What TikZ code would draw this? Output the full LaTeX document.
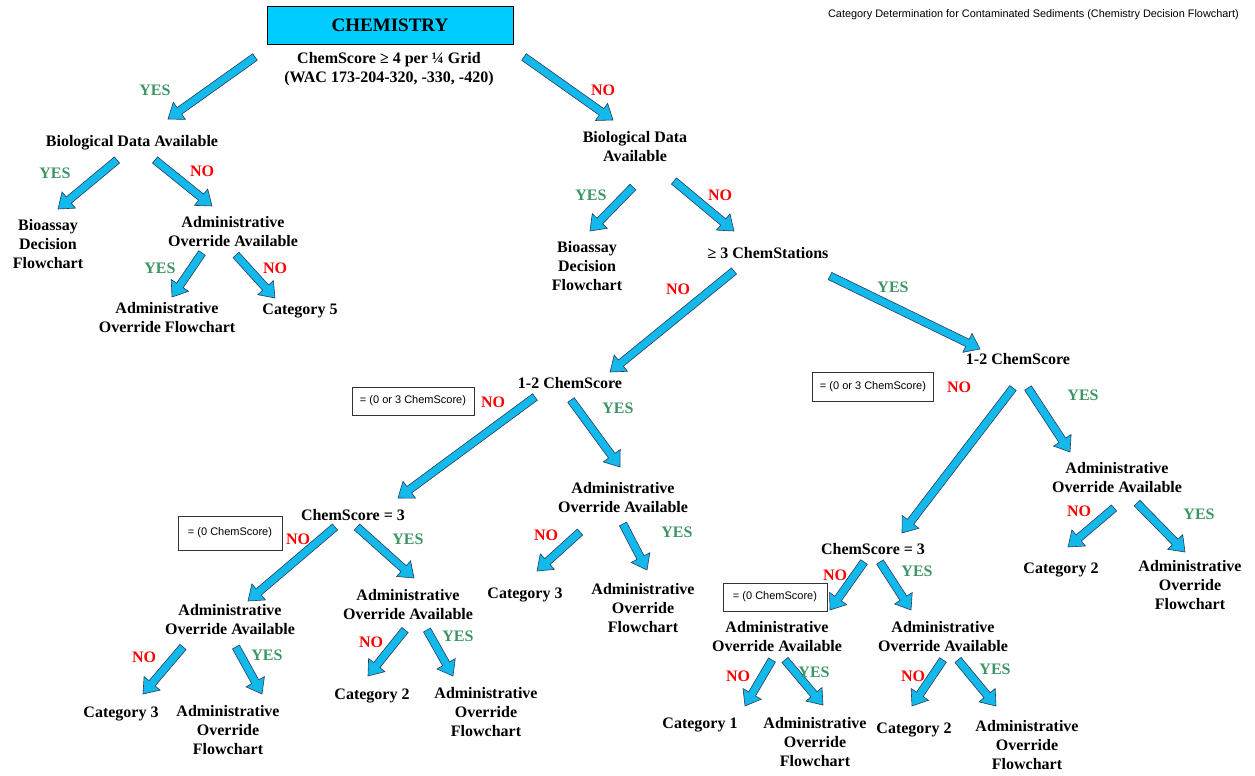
\documentclass[tikz,border=0pt]{standalone}
\usepackage{fontspec}
\setmainfont{Liberation Serif}
\newfontfamily\arialfont{Liberation Sans}
\usetikzlibrary{calc}
\definecolor{chemcyan}{RGB}{0,204,255}
\definecolor{arrowcyan}{RGB}{20,185,235}
\definecolor{arrowline}{RGB}{40,60,90}
\definecolor{yesgreen}{RGB}{60,150,100}
\definecolor{nored}{RGB}{255,0,0}
% block arrow from (source + offset) to (target + offset)
\newcommand{\flowarrow}[4]{%
  \coordinate (fa-t) at ([shift={(#2)}]#1.center);
  \coordinate (fa-h) at ([shift={(#4)}]#3.center);
  \coordinate (fa-n) at ($(fa-h)!14pt!(fa-t)$);
  \draw[blockarrow] ($(fa-t)!4pt!90:(fa-h)$) -- ($(fa-n)!4pt!90:(fa-h)$)
    -- ($(fa-n)!10.5pt!90:(fa-h)$) -- (fa-h) -- ($(fa-n)!10.5pt!-90:(fa-h)$)
    -- ($(fa-n)!4pt!-90:(fa-h)$) -- ($(fa-t)!4pt!-90:(fa-h)$) -- cycle;}
\begin{document}
\begin{tikzpicture}[x=1pt, y=-1pt,
            every node/.style = {inner sep=0pt, align=center},
            txt/.style = {font=\fontsize{16}{19}\selectfont\bfseries},
            yes/.style = {txt, text=yesgreen},
            no/.style = {txt, text=nored},
            notebox/.style = {draw=black!80, line width=1pt, minimum height=28pt,
                              font=\arialfont\fontsize{11}{13}\selectfont},
            blockarrow/.style = {fill=arrowcyan, draw=arrowline, line width=0.6pt, line join=miter}]
  \useasboundingbox (0,0) rectangle (1255,776);

  \node[anchor=east, font=\arialfont\fontsize{10.9}{12}\selectfont] (title) at (1239,15)
       {Category Determination for Contaminated Sediments (Chemistry Decision Flowchart)};

  \node[draw=black, fill=chemcyan, line width=0.8pt, minimum width=246pt, minimum height=38pt,
        font=\fontsize{19}{22}\selectfont\bfseries] (chem) at (390,25) {CHEMISTRY};
  \node[txt] (crit) at (389,69) {ChemScore ≥ 4 per ¼ Grid\\(WAC 173-204-320, -330, -420)};

  % left branch
  \node[txt] (bioL) at (132,143) {Biological Data Available};
  \node[txt] (bioassayL) at (48,244) {Bioassay\\Decision\\Flowchart};
  \node[txt] (admL) at (233,232) {Administrative\\Override Available};
  \node[txt] (admfL) at (167,318) {Administrative\\Override Flowchart};
  \node[txt] (cat5) at (300,311) {Category 5};

  % right branch
  \node[txt] (bioR) at (635,147) {Biological Data\\Available};
  \node[txt] (bioassayR) at (587,266) {Bioassay\\Decision\\Flowchart};
  \node[txt] (st3) at (768,253) {≥ 3 ChemStations};
  \node[txt] (cs12a) at (570,383) {1-2 ChemScore};
  \node[txt] (cs12b) at (1018,359) {1-2 ChemScore};

  \node[notebox, minimum width=122pt] (note1) at (413,401) {= (0 or 3 ChemScore)};
  \node[txt] (cs3a) at (353,515) {ChemScore = 3};
  \node[notebox, minimum width=104pt, minimum height=34pt] (note2) at (230,533) {= (0 ChemScore)};
  \node[txt] (admA) at (623,498) {Administrative\\Override Available};
  \node[txt] (catA3) at (525,595) {Category 3};
  \node[txt] (flowA) at (643,608) {Administrative\\Override\\Flowchart};
  \node[txt] (admB) at (230,620) {Administrative\\Override Available};
  \node[txt] (catB3) at (121,714) {Category 3};
  \node[txt] (flowB) at (228,730) {Administrative\\Override\\Flowchart};
  \node[txt] (admC) at (408,605) {Administrative\\Override Available};
  \node[txt] (catC2) at (372,696) {Category 2};
  \node[txt] (flowC) at (486,712) {Administrative\\Override\\Flowchart};

  \node[notebox, minimum width=121pt, minimum height=29pt] (note3) at (873,387) {= (0 or 3 ChemScore)};
  \node[txt] (cs3b) at (873,549) {ChemScore = 3};
  \node[notebox, minimum width=104pt] (note4) at (775,597) {= (0 ChemScore)};
  \node[txt] (admD) at (1117,478) {Administrative\\Override Available};
  \node[txt] (catD2) at (1061,570) {Category 2};
  \node[txt] (flowD) at (1190,585) {Administrative\\Override\\Flowchart};
  \node[txt] (admE) at (777,637) {Administrative\\Override Available};
  \node[txt] (catE1) at (700,725) {Category 1};
  \node[txt] (flowE) at (815,742) {Administrative\\Override\\Flowchart};
  \node[txt] (admF) at (943,637) {Administrative\\Override Available};
  \node[txt] (catF2) at (914,730) {Category 2};
  \node[txt] (flowF) at (1027,745) {Administrative\\Override\\Flowchart};

  % arrows
  \flowarrow{crit}{-134,-12}{bioL}{36,-24}
  \flowarrow{crit}{135,-12}{bioR}{-22,-27}
  \flowarrow{bioL}{-15,17}{bioassayL}{10,-35}
  \flowarrow{bioL}{23,17}{admL}{-21,-26}
  \flowarrow{admL}{-31,21}{admfL}{5,-21}
  \flowarrow{admL}{3,23}{cat5}{-25,-13}
  \flowarrow{bioR}{-2,40}{bioassayR}{3,-35}
  \flowarrow{bioR}{39,34}{st3}{-34,-22}
  \flowarrow{st3}{-34,18}{cs12a}{40,-11}
  \flowarrow{st3}{62,23}{cs12b}{-38,-10}
  \flowarrow{cs12a}{-35,14}{cs3a}{45,-17}
  \flowarrow{cs12a}{1,17}{admA}{-3,-31}
  \flowarrow{cs3a}{-18,12}{admB}{18,-19}
  \flowarrow{cs3a}{4,12}{admC}{6,-27}
  \flowarrow{admB}{-47,27}{catB3}{22,-20}
  \flowarrow{admB}{6,27}{flowB}{34,-36}
  \flowarrow{admC}{-3,25}{catC2}{-4,-20}
  \flowarrow{admC}{19,25}{flowC}{-33,-36}
  \flowarrow{admA}{-43,34}{catA3}{12,-24}
  \flowarrow{admA}{0,26}{flowA}{4,-38}
  \flowarrow{cs12b}{-5,29}{cs3b}{29,-16}
  \flowarrow{cs12b}{10,29}{admD}{-47,-26}
  \flowarrow{cs3b}{-9,13}{admE}{53,-27}
  \flowarrow{cs3b}{7,13}{admF}{-32,-27}
  \flowarrow{admE}{-5,23}{catE1}{45,-19}
  \flowarrow{admE}{8,23}{flowE}{8,-37}
  \flowarrow{admF}{0,23}{catF2}{-2,-24}
  \flowarrow{admF}{15,23}{flowF}{-31,-39}
  \flowarrow{admD}{-3,30}{catD2}{7,-23}
  \flowarrow{admD}{20,25}{flowD}{-5,-33}

  % branch labels
  \node[yes] (y1) at (155,90) {YES};
  \node[no] (n1) at (603,90) {NO};
  \node[yes] (y2) at (55,173) {YES};
  \node[no] (n2) at (202,171) {NO};
  \node[yes] (y3) at (160,268) {YES};
  \node[no] (n3) at (275,268) {NO};
  \node[yes] (y4) at (591,195) {YES};
  \node[no] (n4) at (720,195) {NO};
  \node[no] (n5) at (678,289) {NO};
  \node[yes] (y5) at (893,287) {YES};
  \node[no] (n6) at (493,402) {NO};
  \node[yes] (y6) at (618,408) {YES};
  \node[no] (n7) at (298,539) {NO};
  \node[yes] (y7) at (408,539) {YES};
  \node[no] (n8) at (144,657) {NO};
  \node[yes] (y8) at (267,655) {YES};
  \node[no] (n9) at (371,642) {NO};
  \node[yes] (y9) at (458,636) {YES};
  \node[no] (n10) at (546,535) {NO};
  \node[yes] (y10) at (677,532) {YES};
  \node[no] (n11) at (959,387) {NO};
  \node[yes] (y11) at (1083,395) {YES};
  \node[no] (n12) at (835,575) {NO};
  \node[yes] (y12) at (917,571) {YES};
  \node[no] (n13) at (738,676) {NO};
  \node[yes] (y13) at (814,672) {YES};
  \node[no] (n14) at (913,676) {NO};
  \node[yes] (y14) at (995,669) {YES};
  \node[no] (n15) at (1079,511) {NO};
  \node[yes] (y15) at (1199,514) {YES};
\end{tikzpicture}
\end{document}
